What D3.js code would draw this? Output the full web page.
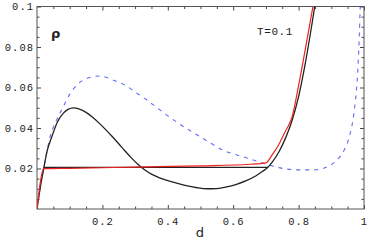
<!DOCTYPE html>
<html>
<head>
<meta charset="utf-8">
<script src="https://cdn.jsdelivr.net/npm/d3@7"></script>
<style>
  body { margin: 0; background: #fff; }
  .tick text { font-family: "Liberation Mono", "DejaVu Sans Mono", monospace; font-size: 10.5px; letter-spacing: 1px; fill: #222; }
  .tick line { stroke: #444; }
  .domain { display: none; }
</style>
</head>
<body>
<div id="chart"></div>
<script>
// ---- data ----
const xTicks = [0.2, 0.4, 0.6, 0.8, 1]
const xTickLabels = ["0.2", "0.4", "0.6", "0.8", "1"]
const yTicks = [0.02, 0.04, 0.06, 0.08, 0.1]
const yTickLabels = ["0.02", "0.04", "0.06", "0.08", "0.1"]

// black isotherm (d, rho)
const blackD = [0, 0.01, 0.02, 0.03, 0.045, 0.061, 0.08, 0.095, 0.11, 0.13, 0.15, 0.17, 0.19, 0.21, 0.23, 0.25, 0.27, 0.29, 0.31, 0.33, 0.35, 0.375, 0.40, 0.43, 0.46, 0.49, 0.52, 0.55, 0.58, 0.61, 0.64, 0.67, 0.69, 0.706, 0.72, 0.74, 0.76, 0.78, 0.80, 0.82, 0.84, 0.86]
const blackRho = [0, 0.0105, 0.0195, 0.028, 0.0355, 0.0425, 0.0472, 0.0492, 0.0499, 0.0493, 0.0477, 0.0453, 0.0424, 0.0392, 0.0358, 0.0322, 0.0285, 0.0250, 0.0219, 0.0193, 0.0172, 0.0154, 0.0140, 0.0126, 0.0114, 0.0105, 0.0100, 0.0101, 0.0109, 0.0122, 0.0140, 0.0164, 0.0186, 0.0206, 0.0233, 0.0283, 0.0350, 0.0437, 0.0555, 0.0715, 0.0905, 0.111]

// black coexistence line
const tieD = [0.02, 0.706]
const tieRho = [0.0206, 0.0206]

// red curve
const redD = [0, 0.021, 0.1, 0.3, 0.5, 0.65, 0.70, 0.72, 0.74, 0.76, 0.77, 0.78, 0.80, 0.82, 0.84, 0.86]
const redRho = [0, 0.0199, 0.0201, 0.0207, 0.0213, 0.0221, 0.0228, 0.027, 0.032, 0.0385, 0.0415, 0.0455, 0.061, 0.0785, 0.0965, 0.115]

// blue dashed curve
const blueD = [0, 0.012, 0.025, 0.04, 0.06, 0.08, 0.1, 0.122, 0.156, 0.193, 0.232, 0.269, 0.3, 0.336, 0.367, 0.4, 0.431, 0.5, 0.57, 0.642, 0.69, 0.743, 0.8, 0.845, 0.878, 0.914, 0.939, 0.954, 0.963, 0.969, 0.974, 0.979, 0.983, 0.986, 0.988, 0.99]
const blueRho = [0, 0.0128, 0.024, 0.0356, 0.044, 0.0504, 0.0566, 0.0612, 0.0647, 0.0657, 0.0637, 0.0612, 0.0578, 0.0538, 0.05, 0.046, 0.0425, 0.0356, 0.029, 0.0252, 0.0227, 0.0203, 0.0193, 0.0193, 0.0202, 0.0237, 0.029, 0.035, 0.041, 0.047, 0.054, 0.063, 0.075, 0.087, 0.098, 0.106]

// ---- layout ----
const width = 368, height = 245
const margin = { top: 6.5, right: 4, bottom: 36, left: 37 }
const innerW = width - margin.left - margin.right
const innerH = height - margin.top - margin.bottom

const x = d3.scaleLinear().domain([0, 1]).range([0, innerW])
const y = d3.scaleLinear().domain([0, 0.1]).range([innerH, 0])

const svg = d3.select("#chart").append("svg")
  .attr("width", width)
  .attr("height", height)

const g = svg.append("g")
  .attr("transform", `translate(${margin.left},${margin.top})`)

g.append("clipPath").attr("id", "clip")
  .append("rect").attr("width", innerW).attr("height", innerH)

// minor ticks
const xMinor = d3.range(0.05, 1, 0.05).filter(v => Math.abs(v * 5 - Math.round(v * 5)) > 1e-6)
const yMinor = d3.range(0.005, 0.1, 0.005).filter(v => Math.abs(v * 50 - Math.round(v * 50)) > 1e-6)

function addAxis(axis, transform) {
  g.append("g").attr("transform", transform).call(axis)
}

addAxis(d3.axisBottom(x).tickValues(xMinor).tickSize(-2.5).tickFormat(""), `translate(0,${innerH})`)
addAxis(d3.axisTop(x).tickValues(xMinor).tickSize(-2.5).tickFormat(""), "translate(0,0)")
addAxis(d3.axisLeft(y).tickValues(yMinor).tickSize(-2.5).tickFormat(""), "translate(0,0)")
addAxis(d3.axisRight(y).tickValues(yMinor).tickSize(-2.5).tickFormat(""), `translate(${innerW},0)`)

addAxis(d3.axisBottom(x).tickValues(xTicks).tickSize(-4).tickPadding(9)
  .tickFormat((d, i) => xTickLabels[i]), `translate(0,${innerH})`)
addAxis(d3.axisTop(x).tickValues(xTicks).tickSize(-4).tickFormat(""), "translate(0,0)")
addAxis(d3.axisLeft(y).tickValues(yTicks).tickSize(-4).tickPadding(3)
  .tickFormat((d, i) => yTickLabels[i]), "translate(0,0)")
addAxis(d3.axisRight(y).tickValues(yTicks).tickSize(-4).tickFormat(""), `translate(${innerW},0)`)

// frame
g.append("rect")
  .attr("width", innerW).attr("height", innerH)
  .attr("fill", "none").attr("stroke", "#555").attr("stroke-width", 1)

const zip = (a, b) => a.map((v, i) => [v, b[i]])
const line = d3.line().x(d => x(d[0])).y(d => y(d[1])).curve(d3.curveMonotoneX)
const straight = d3.line().x(d => x(d[0])).y(d => y(d[1]))

const plot = g.append("g").attr("clip-path", "url(#clip)")

plot.append("path").datum(zip(blueD, blueRho))
  .attr("d", line).attr("fill", "none")
  .attr("stroke", "#5c6cf5").attr("stroke-width", 1.1)
  .attr("stroke-dasharray", "4,5")

plot.append("path").datum(zip(tieD, tieRho))
  .attr("d", straight).attr("fill", "none")
  .attr("stroke", "#222").attr("stroke-width", 1.3)

plot.append("path").datum(zip(blackD, blackRho))
  .attr("d", line).attr("fill", "none")
  .attr("stroke", "#222").attr("stroke-width", 1.3)

plot.append("path").datum(zip(redD, redRho))
  .attr("d", line).attr("fill", "none")
  .attr("stroke", "#f02020").attr("stroke-width", 1.2)

// annotations
g.append("text")
  .attr("x", 14).attr("y", 31)
  .attr("font-family", "DejaVu Sans, sans-serif")
  .attr("font-size", 13).attr("font-weight", "bold").attr("fill", "#222")
  .text("ρ")

g.append("text")
  .attr("x", 220).attr("y", 28)
  .attr("font-family", "Liberation Mono, monospace")
  .attr("font-size", 11).attr("letter-spacing", 0.6).attr("fill", "#222")
  .text("T=0.1")

g.append("text")
  .attr("x", 163).attr("y", innerH + 28)
  .attr("text-anchor", "middle")
  .attr("font-family", "DejaVu Sans, sans-serif")
  .attr("font-size", 13).attr("fill", "#222")
  .text("d")
</script>
</body>
</html>
